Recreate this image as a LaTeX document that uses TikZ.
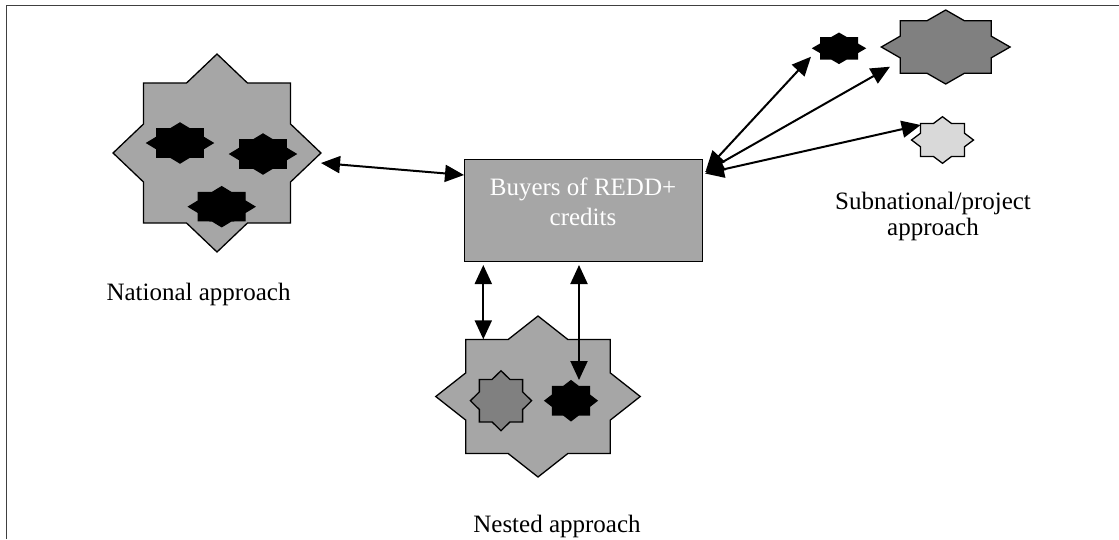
\documentclass[tikz,border=0pt]{standalone}
\usepackage{fontspec}
\setmainfont{Liberation Serif}
\usetikzlibrary{shapes.geometric, arrows.meta, calc}
\definecolor{gA}{HTML}{A6A6A6}
\definecolor{gB}{HTML}{808080}
\definecolor{gC}{HTML}{D9D9D9}
\definecolor{frm}{HTML}{404040}
\newcommand\lab{\fontsize{25}{30}\selectfont}
\newcommand\labsub{\fontsize{25}{26}\selectfont}
\tikzset{
  st/.style={star, star points=8, star point ratio=1.3066, inner sep=0pt, outer sep=0pt,
             draw=black, line width=1.3pt, transform shape},
  bst/.style={st, fill=black},
  biconn/.style={{Triangle[length=19pt,width=17pt]}-{Triangle[length=19pt,width=17pt]}, line width=2pt},
  lbl/.style={font=\lab, align=center, inner sep=0pt},
  boxn/.style={draw=black, fill=gA, line width=1.3pt, inner sep=0pt}
}
\begin{document}
\begin{tikzpicture}[x=1pt, y=-1pt]
\useasboundingbox (0,0) rectangle (1119,539);
% frame
\draw[frm, line width=1.4pt] (6.7,539) -- (6.7,5.3) -- (1119,5.3);

% national approach
\node[st, fill=gA, minimum size=198pt, xscale=1.05] (nat) at (217,153) {};
\node[bst, minimum size=40pt, xscale=1.65] (n1) at (180,143) {};
\node[bst, minimum size=40pt, xscale=1.65] (n2) at (263,154) {};
\node[bst, minimum size=40pt, xscale=1.65] (n3) at (221.7,206.7) {};
\node[lbl, anchor=base] (natlab) at (198.5,300) {National approach};

% buyers
\node[boxn, minimum width=238pt, minimum height=102pt] (buy) at (583.5,210.5) {};
\node[lbl, text=white] (buytxt) at (583,201.5) {Buyers of REDD+\\credits};

% nested approach
\node[st, fill=gA, minimum size=161pt, xscale=1.27] (nes) at (538,396.5) {};
\node[st, fill=gB, minimum size=60pt, xscale=1.02] (ns1) at (501,400.7) {};
\node[bst, minimum size=40pt, xscale=1.3] (ns2) at (571,400.7) {};
\node[lbl, anchor=base] (neslab) at (557,532) {Nested approach};

% subnational
\node[bst, minimum size=30pt, xscale=1.73] (s1) at (839,48.3) {};
\node[st, fill=gB, minimum size=74pt, xscale=1.74] (s2) at (945.7,47) {};
\node[st, fill=gC, minimum size=46.6pt, xscale=1.33] (s3) at (942.5,140) {};
\node[lbl, font=\labsub] (sublab) at (933,216.5) {Subnational/project\\approach};

% connector end points
\coordinate (pNat) at (321,163);
\coordinate (pBuyW) at (464,175);
\coordinate (pBuyB1) at (483.3,265);
\coordinate (pNesT1) at (483.3,339.3);
\coordinate (pBuyB2) at (579,265);
\coordinate (pNesT2) at (579,380);
\coordinate (pBuyE1) at (706,170);
\coordinate (pBuyE2) at (705,172);
\coordinate (pBuyE3) at (705,173.5);
\coordinate (pS1) at (811,56.7);
\coordinate (pS2) at (890,66.7);
\coordinate (pS3) at (920.7,125);

\draw[biconn] (pNat) -- (pBuyW);
\draw[biconn] (pBuyB1) -- (pNesT1);
\draw[biconn] (pBuyB2) -- (pNesT2);
\draw[biconn] (pBuyE1) -- (pS1);
\draw[biconn] (pBuyE2) -- (pS2);
\draw[biconn] (pBuyE3) -- (pS3);
\end{tikzpicture}
\end{document}
